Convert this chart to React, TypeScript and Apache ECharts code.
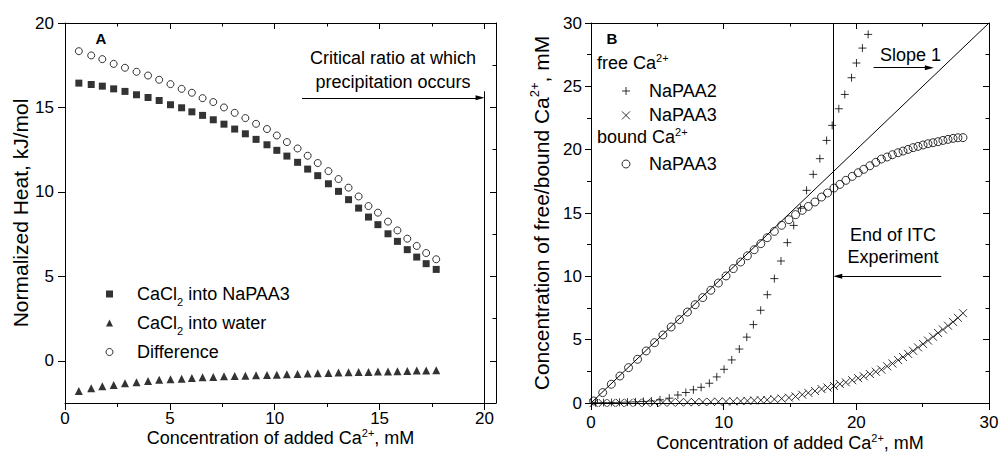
import React, { useEffect, useRef } from 'react';
import * as echarts from 'echarts';

// ---------- Panel A data ----------
const addedCaA = [0.66, 1.25, 1.78, 2.32, 2.86, 3.41, 3.96, 4.49, 5.03, 5.56, 6.05, 6.56, 7.07, 7.58, 8.09, 8.60, 9.11, 9.63, 10.10, 10.58, 11.09, 11.57, 12.05, 12.56, 13.04, 13.52, 14.00, 14.47, 14.92, 15.40, 15.85, 16.32, 16.77, 17.22, 17.70];
const heatIntoNaPAA3 = [16.44, 16.36, 16.26, 16.10, 15.95, 15.75, 15.59, 15.41, 15.16, 14.98, 14.74, 14.53, 14.27, 14.01, 13.72, 13.44, 13.11, 12.79, 12.46, 12.12, 11.75, 11.35, 10.96, 10.48, 10.03, 9.54, 9.04, 8.51, 8.06, 7.52, 7.07, 6.58, 6.14, 5.75, 5.41];
const heatIntoWater = [-1.79, -1.63, -1.51, -1.43, -1.33, -1.27, -1.19, -1.13, -1.09, -1.06, -1.02, -0.98, -0.96, -0.92, -0.90, -0.88, -0.86, -0.84, -0.82, -0.80, -0.78, -0.76, -0.74, -0.72, -0.70, -0.68, -0.67, -0.66, -0.64, -0.63, -0.62, -0.60, -0.58, -0.57, -0.56];
const heatDifference = [18.33, 18.08, 17.86, 17.58, 17.35, 17.11, 16.89, 16.64, 16.38, 16.10, 15.87, 15.55, 15.32, 15.00, 14.68, 14.37, 14.03, 13.72, 13.34, 12.95, 12.57, 12.14, 11.71, 11.23, 10.76, 10.25, 9.73, 9.16, 8.77, 8.24, 7.72, 7.23, 6.80, 6.38, 6.01];

// ---------- Panel B data ----------
const addedCaB = [0.20, 0.88, 1.53, 2.18, 2.83, 3.51, 4.16, 4.79, 5.42, 6.04, 6.67, 7.27, 7.85, 8.42, 9.03, 9.60, 10.18, 10.73, 11.28, 11.79, 12.30, 12.80, 13.28, 13.82, 14.37, 14.92, 15.42, 15.92, 16.38, 16.88, 17.38, 17.83, 18.31, 18.76, 19.21, 19.69, 20.14, 20.56, 21.02, 21.47, 21.89, 22.32, 22.72, 23.15, 23.52, 23.90, 24.28, 24.65, 25.03, 25.40, 25.78, 26.16, 26.53, 26.91, 27.29, 27.66, 28.04];
const boundNaPAA3 = [0.16, 0.82, 1.48, 2.13, 2.79, 3.45, 4.11, 4.76, 5.37, 6.00, 6.58, 7.18, 7.76, 8.32, 8.90, 9.47, 10.03, 10.61, 11.13, 11.62, 12.10, 12.58, 13.05, 13.55, 14.03, 14.47, 14.87, 15.21, 15.52, 15.87, 16.26, 16.58, 16.97, 17.26, 17.58, 17.89, 18.18, 18.45, 18.73, 19.00, 19.26, 19.42, 19.60, 19.76, 19.89, 20.02, 20.16, 20.26, 20.37, 20.47, 20.55, 20.63, 20.73, 20.81, 20.89, 20.94, 20.95];
const freeNaPAA3 = [0.0, 0.0, 0.0, 0.01, 0.01, 0.02, 0.02, 0.03, 0.04, 0.04, 0.05, 0.06, 0.07, 0.08, 0.09, 0.10, 0.12, 0.13, 0.15, 0.17, 0.20, 0.22, 0.25, 0.30, 0.35, 0.42, 0.52, 0.66, 0.80, 0.95, 1.10, 1.22, 1.34, 1.50, 1.63, 1.80, 1.96, 2.11, 2.29, 2.47, 2.63, 2.90, 3.12, 3.39, 3.63, 3.88, 4.12, 4.39, 4.66, 4.93, 5.23, 5.53, 5.80, 6.10, 6.40, 6.72, 7.09];
const addedCaB2 = [0.35, 0.95, 1.55, 2.15, 2.75, 3.35, 3.95, 4.55, 5.20, 5.90, 6.55, 7.15, 7.72, 8.30, 8.92, 9.48, 10.03, 10.61, 11.18, 11.74, 12.24, 12.79, 13.29, 13.82, 14.32, 14.80, 15.28, 15.80, 16.25, 16.75, 17.25, 17.76, 18.18, 18.68, 19.13, 19.64, 20.01, 20.46, 20.89];
const freeNaPAA2 = [0.02, 0.03, 0.04, 0.05, 0.07, 0.09, 0.12, 0.16, 0.25, 0.38, 0.63, 0.83, 1.04, 1.24, 1.56, 2.06, 2.66, 3.40, 4.26, 5.20, 6.19, 7.32, 8.55, 9.82, 11.21, 12.66, 14.02, 15.38, 16.79, 18.05, 19.29, 20.73, 21.92, 23.23, 24.36, 25.68, 26.84, 28.02, 29.10];
const slopeOneLine = [[-1, -1], [30, 30]];

// ---------- ticks ----------
const xTicksA = [0, 5, 10, 15, 20];
const xMinorA = [2.5, 7.5, 12.5, 17.5];
const yTicksA = [0, 5, 10, 15, 20];
const yMinorA = [-2.5, 2.5, 7.5, 12.5, 17.5];
const xTicksB = [0, 10, 20, 30];
const xMinorB = [5, 15, 25];
const yTicksB = [0, 5, 10, 15, 20, 25, 30];
const yMinorB = [2.5, 7.5, 12.5, 17.5, 22.5, 27.5];

const FONT = "'Liberation Sans', Arial, Helvetica, sans-serif";
const BLACK = '#000';

const richLabel = {
  sup: { fontSize: 11, verticalAlign: 'top', fontFamily: FONT, color: BLACK, lineHeight: 12 },
  sub: { fontSize: 11, verticalAlign: 'bottom', fontFamily: FONT, color: BLACK, lineHeight: 12 },
};
const richLabelY = {
  sup: { fontSize: 13, verticalAlign: 'top', fontFamily: FONT, color: BLACK, lineHeight: 13 },
};
const richGraphic = {
  sup: { fontSize: 11, verticalAlign: 'top', fontFamily: FONT, fill: BLACK, lineHeight: 11 },
};

const PLUS = 'path://M5,0 L5,10 M0,5 L10,5';
const CROSS = 'path://M0,0 L10,10 M10,0 L0,10';
const ARROW = 'path://M5,0 L10,20 L0,20 Z';

function mkAxis(o: any) {
  const ax: any = {
    type: 'value',
    gridIndex: o.grid,
    min: o.min,
    max: o.max,
    position: o.pos,
    axisLine: { show: !!o.line, onZero: false, lineStyle: { color: BLACK, width: 1 } },
    axisTick: { show: true, inside: o.inside, length: o.len, customValues: o.ticks, lineStyle: { color: BLACK, width: 1 } },
    axisLabel: o.labels
      ? { show: true, customValues: o.labels, margin: o.margin, color: BLACK, fontSize: 17, fontFamily: FONT }
      : { show: false },
    splitLine: { show: false },
    minorTick: { show: false },
    minorSplitLine: { show: false },
    z: 3,
  };
  if (o.name) {
    ax.name = o.name;
    ax.nameLocation = 'middle';
    ax.nameGap = o.nameGap;
    ax.nameMoveOverlap = false;
    ax.nameTextStyle = {
      color: BLACK,
      fontSize: o.nameSize || 18,
      fontFamily: FONT,
      lineHeight: o.nameSize ? 26 : 22,
      rich: o.nameSize ? richLabelY : richLabel,
    };
  }
  return ax;
}

function gText(x: number, y: number, text: string, extra: any = {}) {
  return {
    type: 'text',
    x,
    y,
    silent: true,
    style: { text, fill: BLACK, fontSize: 18, fontFamily: FONT, ...extra },
  };
}

const lineMark = (data: any[]) => ({
  silent: true,
  symbol: ['none', ARROW],
  symbolSize: [5, 9],
  lineStyle: { color: BLACK, width: 1, type: 'solid' },
  itemStyle: { color: BLACK },
  label: { show: false },
  emphasis: { disabled: true },
  data,
});

export default function App() {
  const ref = useRef<HTMLDivElement>(null);
  useEffect(() => {
    if (!ref.current) return;
    const chart = echarts.init(ref.current, undefined, { renderer: 'svg' });
    const option: any = {
      animation: false,
      backgroundColor: '#fff',
      textStyle: { fontFamily: FONT },
      grid: [
        { left: 65, top: 23, width: 431, height: 380, containLabel: false, outerBoundsMode: 'none' },
        { left: 591, top: 23, width: 398, height: 380, containLabel: false, outerBoundsMode: 'none' },
      ],
      xAxis: [
        mkAxis({ grid: 0, min: 0, max: 20.55, pos: 'bottom', ticks: xTicksA, len: 7, inside: false, line: true, labels: xTicksA, margin: 7, name: 'Concentration of added Ca{sup|2+}, mM', nameGap: 24 }),
        mkAxis({ grid: 0, min: 0, max: 20.55, pos: 'bottom', ticks: xMinorA, len: 4, inside: false }),
        mkAxis({ grid: 0, min: 0, max: 20.55, pos: 'top', ticks: xTicksA, len: 6, inside: true, line: true }),
        mkAxis({ grid: 0, min: 0, max: 20.55, pos: 'top', ticks: xMinorA, len: 3.5, inside: true }),
        mkAxis({ grid: 1, min: 0, max: 30, pos: 'bottom', ticks: xTicksB, len: 7, inside: false, line: true, labels: xTicksB, margin: 11, name: 'Concentration of added Ca{sup|2+}, mM', nameGap: 29 }),
        mkAxis({ grid: 1, min: 0, max: 30, pos: 'bottom', ticks: xMinorB, len: 4, inside: false }),
        mkAxis({ grid: 1, min: 0, max: 30, pos: 'top', ticks: xTicksB, len: 6, inside: true, line: true }),
        mkAxis({ grid: 1, min: 0, max: 30, pos: 'top', ticks: xMinorB, len: 3.5, inside: true }),
      ],
      yAxis: [
        mkAxis({ grid: 0, min: -2.5, max: 20, pos: 'left', ticks: yTicksA, len: 7, inside: false, line: true, labels: yTicksA, margin: 11, name: 'Normalized Heat, kJ/mol', nameGap: 32, nameSize: 21 }),
        mkAxis({ grid: 0, min: -2.5, max: 20, pos: 'right', ticks: yTicksA, len: 6, inside: true, line: true }),
        mkAxis({ grid: 0, min: -2.5, max: 20, pos: 'right', ticks: yMinorA, len: 3.5, inside: true }),
        mkAxis({ grid: 1, min: 0, max: 30, pos: 'left', ticks: yTicksB, len: 6, inside: false, line: true, labels: yTicksB, margin: 9, name: 'Concentration of free/bound Ca{sup|2+}, mM', nameGap: 37, nameSize: 21 }),
        mkAxis({ grid: 1, min: 0, max: 30, pos: 'left', ticks: yMinorB, len: 4, inside: false }),
        mkAxis({ grid: 1, min: 0, max: 30, pos: 'right', ticks: yTicksB, len: 6, inside: true, line: true }),
        mkAxis({ grid: 1, min: 0, max: 30, pos: 'right', ticks: yMinorB, len: 3.5, inside: true }),
      ],
      legend: [
        {
          data: ['CaCl2 into NaPAA3', 'CaCl2 into water', 'Difference'],
          orient: 'vertical',
          left: 100.5,
          top: 276,
          itemWidth: 7,
          itemHeight: 7,
          itemGap: 3,
          selectedMode: false,
          formatter: (n: string) => n.replace('CaCl2', 'CaCl{sub|2}'),
          textStyle: { color: BLACK, fontSize: 18, fontFamily: FONT, lineHeight: 26, padding: [0, 0, 0, 19], rich: richLabel },
          itemStyle: { borderWidth: 1 },
        },
        {
          data: ['free NaPAA2', 'free NaPAA3'],
          orient: 'vertical',
          left: 616.5,
          top: 76,
          itemWidth: 8,
          itemHeight: 8,
          itemGap: 4.4,
          selectedMode: false,
          formatter: (n: string) => n.split(' ')[1],
          textStyle: { color: BLACK, fontSize: 18, fontFamily: FONT, lineHeight: 20, padding: [0, 0, 0, 14] },
          itemStyle: { borderWidth: 1 },
        },
        {
          data: ['bound NaPAA3'],
          orient: 'vertical',
          left: 616.5,
          top: 149,
          itemWidth: 8,
          itemHeight: 8,
          selectedMode: false,
          formatter: (n: string) => n.split(' ')[1],
          textStyle: { color: BLACK, fontSize: 18, fontFamily: FONT, lineHeight: 20, padding: [0, 0, 0, 14] },
          itemStyle: { borderWidth: 1 },
        },
      ],
      series: [
        {
          name: 'CaCl2 into NaPAA3',
          type: 'scatter',
          xAxisIndex: 0,
          yAxisIndex: 0,
          symbol: 'rect',
          symbolSize: 7,
          itemStyle: { color: BLACK },
          data: addedCaA.map((x, i) => [x, heatIntoNaPAA3[i]]),
          markLine: lineMark([
            [{ coord: [20, 15.96], symbol: 'none' }, { coord: [20, -2.5], symbol: 'none' }],
            [{ coord: [11.3, 15.57] }, { coord: [19.79, 15.57] }],
          ]),
        },
        {
          name: 'CaCl2 into water',
          type: 'scatter',
          xAxisIndex: 0,
          yAxisIndex: 0,
          symbol: 'triangle',
          symbolSize: 8,
          itemStyle: { color: BLACK },
          data: addedCaA.map((x, i) => [x, heatIntoWater[i]]),
        },
        {
          name: 'Difference',
          type: 'scatter',
          xAxisIndex: 0,
          yAxisIndex: 0,
          symbol: 'circle',
          symbolSize: 7,
          itemStyle: { color: 'transparent', borderColor: BLACK, borderWidth: 1 },
          data: addedCaA.map((x, i) => [x, heatDifference[i]]),
        },
        {
          name: 'slope 1',
          type: 'line',
          xAxisIndex: 4,
          yAxisIndex: 3,
          data: slopeOneLine,
          clip: false,
          symbol: 'none',
          showSymbol: false,
          lineStyle: { color: BLACK, width: 1 },
          itemStyle: { color: BLACK },
          z: 1,
          markLine: lineMark([
            [{ coord: [18.25, 0], symbol: 'none' }, { coord: [18.25, 30], symbol: 'none' }],
            [{ coord: [21.3, 26.47] }, { coord: [25.5, 26.47] }],
            [{ coord: [26.4, 10.0] }, { coord: [18.6, 10.0] }],
          ]),
        },
        {
          name: 'free NaPAA2',
          type: 'scatter',
          xAxisIndex: 4,
          yAxisIndex: 3,
          symbol: PLUS,
          symbolSize: 8,
          itemStyle: { color: 'transparent', borderColor: BLACK, borderWidth: 1 },
          data: addedCaB2.map((x, i) => [x, freeNaPAA2[i]]),
        },
        {
          name: 'free NaPAA3',
          type: 'scatter',
          xAxisIndex: 4,
          yAxisIndex: 3,
          symbol: CROSS,
          symbolSize: 8,
          itemStyle: { color: 'transparent', borderColor: BLACK, borderWidth: 1 },
          data: addedCaB.map((x, i) => [x, freeNaPAA3[i]]),
        },
        {
          name: 'bound NaPAA3',
          type: 'scatter',
          xAxisIndex: 4,
          yAxisIndex: 3,
          symbol: 'circle',
          symbolSize: 8,
          itemStyle: { color: 'transparent', borderColor: BLACK, borderWidth: 1 },
          data: addedCaB.map((x, i) => [x, boundNaPAA3[i]]),
        },
      ],
      graphic: [
        gText(101, 38, 'A', { fontSize: 15, fontWeight: 'bold', align: 'center', verticalAlign: 'middle' }),
        gText(612, 38, 'B', { fontSize: 15, fontWeight: 'bold', align: 'center', verticalAlign: 'middle' }),
        gText(393, 70, 'Critical ratio at which\nprecipitation occurs', { align: 'center', verticalAlign: 'middle', lineHeight: 23.4 }),
        gText(880, 55, 'Slope 1', { align: 'left', verticalAlign: 'middle' }),
        gText(893, 246, 'End of ITC\nExperiment', { align: 'center', verticalAlign: 'middle', lineHeight: 22 }),
        gText(597, 63, 'free Ca{sup|2+}', { align: 'left', verticalAlign: 'middle', lineHeight: 22, rich: richGraphic }),
        gText(597, 137, 'bound Ca{sup|2+}', { align: 'left', verticalAlign: 'middle', lineHeight: 22, rich: richGraphic }),
      ],
    };
    chart.setOption(option);
    return () => chart.dispose();
  }, []);
  return <div ref={ref} style={{ position: 'absolute', left: 0, top: 0, width: 1000, height: 455 }} />;
}
